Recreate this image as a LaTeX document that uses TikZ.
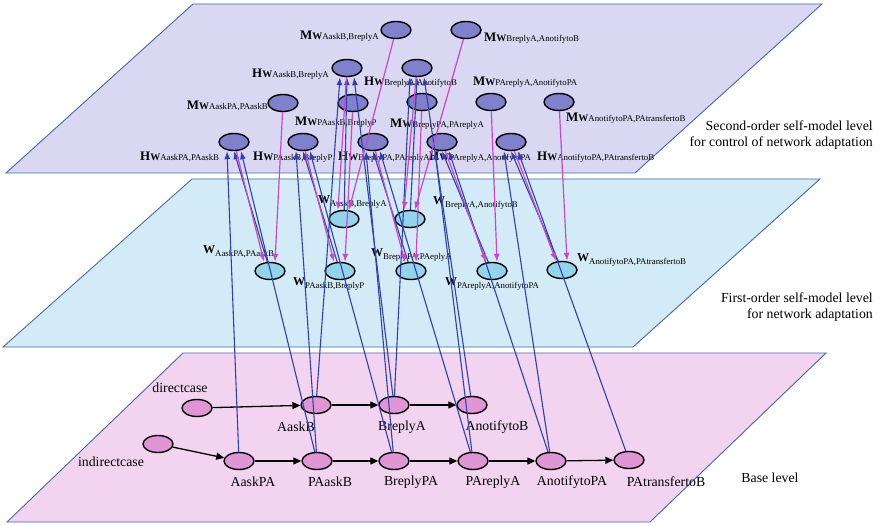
\documentclass[tikz,border=0pt]{standalone}
\usepackage{fontspec}
\setmainfont{Liberation Serif}
\usetikzlibrary{arrows.meta, shapes.geometric}
\definecolor{clrTopPl} {RGB}{217,215,242}
\definecolor{clrMidPl} {RGB}{211,235,247}
\definecolor{clrBasePl}{RGB}{243,212,240}
\definecolor{clrEdge}  {RGB}{ 70,105,165}
\definecolor{clrTop}   {RGB}{128,128,204}
\definecolor{clrMid}   {RGB}{148,212,234}
\definecolor{clrBase}  {RGB}{224,150,212}
\definecolor{clrBl}    {RGB}{ 45, 65,175}
\definecolor{clrMg}    {RGB}{205, 70,200}
\newcommand{\mwlab}[2]{\textbf{#1}{\fontsize{10}{10}\selectfont\textbf{W}}{\fontsize{8.8}{9}\selectfont #2}}
\newcommand{\wlab}[1]{\textbf{W}\raisebox{-3pt}{\fontsize{8.8}{9}\selectfont #1}}

\begin{document}
\begin{tikzpicture}[x=1pt, y=-1pt,
  %% ── plane / node styles ──────────────────────────────────────────────────
  plane/.style = {draw=clrEdge, line width=0.9pt},
  tnode/.style = {ellipse, draw=black, line width=1.4pt, fill=clrTop,
                  minimum width=30pt, minimum height=17pt, inner sep=0pt},
  mnode/.style = {tnode, fill=clrMid},
  bnode/.style = {tnode, fill=clrBase},
  %% ── label styles ─────────────────────────────────────────────────────────
  mlab/.style  = {font=\fontsize{13}{13}\selectfont, inner sep=0pt},
  wlab/.style  = {font=\fontsize{12}{12}\selectfont, inner sep=0pt},
  blab/.style  = {font=\fontsize{13.8}{13.8}\selectfont, inner sep=0pt},
  lvl/.style   = {font=\fontsize{13.8}{16}\selectfont, align=right, inner sep=0pt},
  %% ── arrow styles ─────────────────────────────────────────────────────────
  barr/.style  = {-{Latex[length=8pt,width=6pt]}, line width=1.1pt, color=clrBl},
  marr/.style  = {-{Latex[length=8pt,width=6pt]}, line width=1.2pt, color=clrMg},
  karr/.style  = {-{Triangle[length=8pt,width=7pt]}, line width=1.3pt, color=black},
]
\useasboundingbox (0,0) rectangle (880,526);

%% ═══════════════════════════════════════════════════════════════════════════
%% PLANES
%% ═══════════════════════════════════════════════════════════════════════════
\draw[plane, fill=clrTopPl]  (193,4)   -- (822,4)   -- (635,173) -- (6,173) -- cycle;
\draw[plane, fill=clrMidPl]  (192,179) -- (820,179) -- (633,347) -- (3,347) -- cycle;
\draw[plane, fill=clrBasePl] (183,353) -- (826,353) -- (650,522) -- (7,522) -- cycle;

\node[lvl, anchor=east] (lvlTwo) at (873,135)
      {Second-order self-model level\\for control of network adaptation};
\node[lvl, anchor=east] (lvlOne) at (873,307)
      {First-order self-model level\\for network adaptation};
\node[lvl] (lvlBase) at (770,478) {Base level};

%% ═══════════════════════════════════════════════════════════════════════════
%% SECOND-ORDER LEVEL: M and H states
%% ═══════════════════════════════════════════════════════════════════════════
\node[tnode] (mAB) at (396,30)  {};
\node[tnode] (mBA) at (466,30)  {};
\node[tnode] (hAB) at (347,68)  {};
\node[tnode] (hBA) at (417,68)  {};
\node[tnode] (mAP) at (283,103) {};
\node[tnode] (mPB) at (353,103) {};
\node[tnode] (mBP) at (422,102) {};
\node[tnode] (mPA) at (491,102) {};
\node[tnode] (mAT) at (559,102) {};
\node[tnode] (hAP) at (234,142) {};
\node[tnode] (hPB) at (303,142) {};
\node[tnode] (hBP) at (373,142) {};
\node[tnode] (hPA) at (442,142) {};
\node[tnode] (hAT) at (511,142) {};

\node[mlab, anchor=east] (lmAB) at (379,36)  {\mwlab{M}{AaskB,BreplyA}};
\node[mlab, anchor=west] (lmBA) at (484,38)  {\mwlab{M}{BreplyA,AnotifytoB}};
\node[mlab, anchor=east] (lhAB) at (329,74)  {\mwlab{H}{AaskB,BreplyA}};
\node[mlab, anchor=west] (lhBA) at (364,82)  {\mwlab{H}{BreplyA,AnotifytoB}};
\node[mlab, anchor=east] (lmAP) at (268,106) {\mwlab{M}{AaskPA,PAaskB}};
\node[mlab, anchor=west] (lmPB) at (295,122) {\mwlab{M}{PAaskB,BreplyP}};
\node[mlab, anchor=west] (lmBP) at (390,124) {\mwlab{M}{BreplyPA,PAreplyA}};
\node[mlab, anchor=west] (lmPA) at (473,82)  {\mwlab{M}{PAreplyA,AnotifytoPA}};
\node[mlab, anchor=west] (lmAT) at (566,118) {\mwlab{M}{AnotifytoPA,PAtransfertoB}};
\node[mlab, anchor=west] (lhAP) at (140,157) {\mwlab{H}{AaskPA,PAaskB}};
\node[mlab, anchor=west] (lhPB) at (253,157) {\mwlab{H}{PAaskB,BreplyP}};
\node[mlab, anchor=west] (lhBP) at (338,157) {\mwlab{H}{BreplyPA,PAreplyA}};
\node[mlab, anchor=west] (lhPA) at (429,157) {\mwlab{H}{PAreplyA,AnotifytoPA}};
\node[mlab, anchor=west] (lhAT) at (537,157) {\mwlab{H}{AnotifytoPA,PAtransfertoB}};

%% ═══════════════════════════════════════════════════════════════════════════
%% FIRST-ORDER LEVEL: W states
%% ═══════════════════════════════════════════════════════════════════════════
\node[mnode] (wAB) at (344,219) {};
\node[mnode] (wBA) at (410,219) {};
\node[mnode] (wAP) at (270,271) {};
\node[mnode] (wPB) at (340,271) {};
\node[mnode] (wBP) at (411,271) {};
\node[mnode] (wPA) at (492,271) {};
\node[mnode] (wAT) at (562,270) {};

\node[wlab, anchor=west] (lwAB) at (318,202) {\wlab{AaskB,BreplyA}};
\node[wlab, anchor=west] (lwBA) at (433,203) {\wlab{BreplyA,AnotifytoB}};
\node[wlab, anchor=west] (lwAP) at (203,252) {\wlab{AaskPA,PAaskB}};
\node[wlab, anchor=west] (lwPB) at (293,284) {\wlab{PAaskB,BreplyP}};
\node[wlab, anchor=west] (lwBP) at (371,255) {\wlab{BreplyPA,PAeplyA}};
\node[wlab, anchor=west] (lwPA) at (445,284) {\wlab{PAreplyA,AnotifytoPA}};
\node[wlab, anchor=west] (lwAT) at (577,260) {\wlab{AnotifytoPA,PAtransfertoB}};

%% ═══════════════════════════════════════════════════════════════════════════
%% BASE LEVEL
%% ═══════════════════════════════════════════════════════════════════════════
\node[bnode] (dcase)         at (197,408) {};
\node[bnode] (AaskB)         at (316,405) {};
\node[bnode] (BreplyA)       at (394,405) {};
\node[bnode] (AnotifytoB)    at (472,405) {};
\node[bnode] (icase)         at (158,444) {};
\node[bnode] (AaskPA)        at (239,461) {};
\node[bnode] (PAaskB)        at (317,461) {};
\node[bnode] (BreplyPA)      at (394,461) {};
\node[bnode] (PAreplyA)      at (473,461) {};
\node[bnode] (AnotifytoPA)   at (551,461) {};
\node[bnode] (PAtransfertoB) at (629,460) {};

\node[blab] (ldcase)  at (180,388) {directcase};
\node[blab] (lAaskB)  at (296,427) {AaskB};
\node[blab] (lBreplyA) at (402,427) {BreplyA};
\node[blab] (lAnotB)  at (497,427) {AnotifytoB};
\node[blab] (licase)  at (111,462) {indirectcase};
\node[blab] (lAaskPA) at (253,482) {AaskPA};
\node[blab] (lPAaskB) at (330,482) {PAaskB};
\node[blab] (lBrPA)   at (411,482) {BreplyPA};
\node[blab] (lPArA)   at (493,482) {PAreplyA};
\node[blab] (lAnotPA) at (572,482) {AnotifytoPA};
\node[blab] (lPAtrB)  at (666,482) {PAtransfertoB};

%% ── base-level arrows ─────────────────────────────────────────────────────
\foreach \a/\b in {dcase/AaskB, AaskB/BreplyA, BreplyA/AnotifytoB,
                   icase/AaskPA, AaskPA/PAaskB, PAaskB/BreplyPA,
                   BreplyPA/PAreplyA, PAreplyA/AnotifytoPA,
                   AnotifytoPA/PAtransfertoB}
  \draw[karr] (\a) -- (\b);

%% ── inter-level connections per adapted weight ───────────────────────────
\foreach \sfx/\src/\dst in {AB/AaskB/BreplyA, BA/BreplyA/AnotifytoB,
                            AP/AaskPA/PAaskB, PB/PAaskB/BreplyPA,
                            BP/BreplyPA/PAreplyA, PA/PAreplyA/AnotifytoPA,
                            AT/AnotifytoPA/PAtransfertoB}
{
  \draw[barr] (\src)    -- ([xshift=-7pt]h\sfx.south);
  \draw[barr] (w\sfx)   -- (h\sfx.south);
  \draw[barr] (\dst)    -- ([xshift=7pt]h\sfx.south);
  \draw[marr] (h\sfx)   -- ([xshift=-6pt]w\sfx.north);
  \draw[marr] (m\sfx)   -- ([xshift=5pt]w\sfx.north);
}

\end{tikzpicture}
\end{document}
